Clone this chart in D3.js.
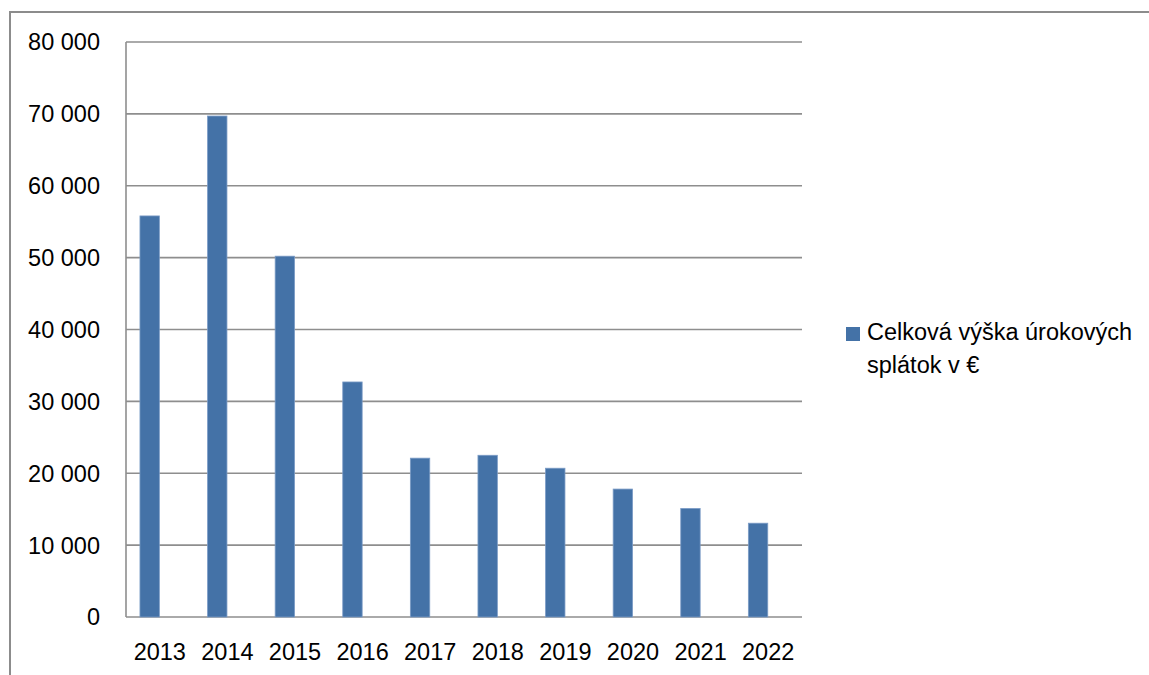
<!DOCTYPE html>
<html>
<head>
<meta charset="utf-8">
<script src="https://cdn.jsdelivr.net/npm/d3@7"></script>
<style>
  body { margin: 0; background: #fff; }
  text { font-family: "Liberation Sans", Arial, sans-serif; fill: #000; }
</style>
</head>
<body>
<script>
// chart data
var years = ["2013", "2014", "2015", "2016", "2017", "2018", "2019", "2020", "2021", "2022"];
var payments = [55800, 69700, 50200, 32700, 22100, 22500, 20700, 17800, 15100, 13050];
var yTicks = [0, 10000, 20000, 30000, 40000, 50000, 60000, 70000, 80000];
var seriesName = ["Celková výška úrokových", "splátok v €"];

var width = 1149, height = 675;
// plot box (note: "top" is reserved on window, so use other names)
var plotL = 126, plotR = 802, plotT = 42, plotB = 617;

var svg = d3.select("body").append("svg").attr("width", width).attr("height", height);

// outer chart frame (right and bottom edges fall outside the picture)
svg.append("rect")
    .attr("x", 10).attr("y", 12)
    .attr("width", 1200).attr("height", 700)
    .attr("fill", "none").attr("stroke", "#8c8c8c").attr("stroke-width", 2);

var x = d3.scaleBand().domain(years).range([plotL, plotR]);
var y = d3.scaleLinear().domain([0, 80000]).range([plotB, plotT]);

var fmt = function(v) { return d3.format(",")(v).replace(/,/g, " "); };

// gridlines
svg.selectAll("line.grid").data(yTicks).enter()
    .append("line")
    .attr("class", "grid")
    .attr("x1", plotL).attr("x2", plotR)
    .attr("y1", function(d) { return y(d); })
    .attr("y2", function(d) { return y(d); })
    .attr("stroke", "#8e8e8e").attr("stroke-width", 1.6);

// left axis line
svg.append("line")
    .attr("x1", plotL).attr("x2", plotL).attr("y1", plotT).attr("y2", plotB)
    .attr("stroke", "#8e8e8e").attr("stroke-width", 1.6);

// y tick labels
svg.selectAll("text.ylab").data(yTicks).enter()
    .append("text")
    .attr("class", "ylab")
    .attr("x", 100)
    .attr("y", function(d) { return y(d); })
    .attr("dy", "0.36em")
    .attr("text-anchor", "end")
    .style("font-size", "23.5px")
    .text(fmt);

// bars, shifted left inside each band (room for an empty second series)
var bw = x.bandwidth() * 0.287;
svg.selectAll("rect.bar").data(payments).enter()
    .append("rect")
    .attr("class", "bar")
    .attr("x", function(d, i) { return x(years[i]) + x.bandwidth() * 0.35 - bw / 2; })
    .attr("y", function(d) { return y(d); })
    .attr("width", bw)
    .attr("height", function(d) { return y(0) - y(d); })
    .attr("fill", "#4472a7")
    .attr("stroke", "#7b9bc6").attr("stroke-width", 0.8);

// x labels
svg.selectAll("text.xlab").data(years).enter()
    .append("text")
    .attr("class", "xlab")
    .attr("x", function(d) { return x(d) + x.bandwidth() / 2; })
    .attr("y", 660)
    .attr("text-anchor", "middle")
    .style("font-size", "23.5px")
    .text(String);

// legend
svg.append("rect")
    .attr("x", 846).attr("y", 327).attr("width", 14).attr("height", 14)
    .attr("fill", "#4472a7");
svg.selectAll("text.leg").data(seriesName).enter()
    .append("text")
    .attr("class", "leg")
    .attr("x", 867)
    .attr("y", function(d, i) { return 340 + i * 33; })
    .style("font-size", "23.5px")
    .text(String);
</script>
</body>
</html>
